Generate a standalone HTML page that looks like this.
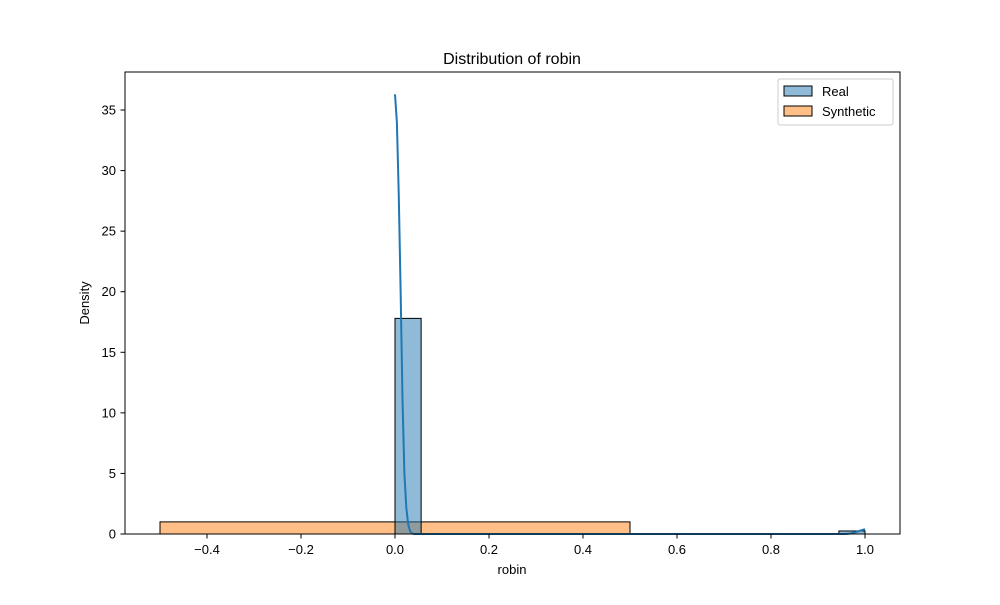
<!DOCTYPE html>
<html><head><meta charset="utf-8"><style>
body{margin:0;background:#fff;font-family:"Liberation Sans","DejaVu Sans",sans-serif}
</style></head><body>
<svg id="chart" width="1000" height="600" xmlns="http://www.w3.org/2000/svg" font-family="Liberation Sans, DejaVu Sans, sans-serif">
<rect width="1000" height="600" fill="#fff"/>
<g id="marks"></g>
<rect x="125" y="72" width="775" height="462" fill="none" stroke="#000" stroke-width="1"/>
<g id="xticks"></g>
<g id="yticks"></g>
<text x="512" y="64" text-anchor="middle" font-size="16">Distribution of robin</text>
<text x="512" y="574" text-anchor="middle" font-size="13">robin</text>
<text transform="translate(89,303) rotate(-90)" text-anchor="middle" font-size="13">Density</text>
<g>
<rect x="778" y="79" width="115" height="46" fill="#fff" fill-opacity="0.8" stroke="#ccc" rx="2"/>
<g><rect x="784" y="86" width="28" height="10" fill="#1f77b4" fill-opacity="0.5" stroke="#000"/><text x="822" y="96" font-size="13">Real</text></g>
<g><rect x="784" y="106" width="28" height="10" fill="#ff7f0e" fill-opacity="0.5" stroke="#000"/><text x="822" y="116" font-size="13">Synthetic</text></g>
</g>
</svg>
<script>
const realEdges=[0,0.0556,0.1111,0.1667,0.2222,0.2778,0.3333,0.3889,0.4444,0.5,0.5556,0.6111,0.6667,0.7222,0.7778,0.8333,0.8889,0.9444,1.0];
const realHeights=[17.8,0,0,0,0,0,0,0,0,0,0,0,0,0,0,0,0,0.25];
const synthEdges=[-0.5,0.5,1.0];
const synthHeights=[1.0,0];
const kdeX=[0,0.004,0.008,0.012,0.016,0.02,0.024,0.028,0.032,0.036,0.04,0.5,0.96,0.97,0.98,0.99,1.0];
const kdeY=[36.3,34,28,20,11,5,2.2,0.8,0.25,0.05,0,0,0,0.05,0.15,0.28,0.4];
const xTicks=[-0.4,-0.2,0.0,0.2,0.4,0.6,0.8,1.0];
const yTicks=[0,5,10,15,20,25,30,35];
const X=v=>395+v*470;
const Y=v=>534-v*12.114;
const NS="http://www.w3.org/2000/svg";
const marks=document.getElementById('marks');
function mk(t,a,p){const e=document.createElementNS(NS,t);for(const k in a)e.setAttribute(k,a[k]);(p||marks).appendChild(e);return e;}
for(let i=0;i<synthHeights.length;i++){
 const e=mk('rect',{x:X(synthEdges[i]),y:Y(synthHeights[i]),width:X(synthEdges[i+1])-X(synthEdges[i]),height:Y(0)-Y(synthHeights[i]),fill:'#ff7f0e','fill-opacity':0.5,stroke:'#000','stroke-width':1});
 
 
}
for(let i=0;i<realHeights.length;i++){
 const e=mk('rect',{x:X(realEdges[i]),y:Y(realHeights[i]),width:X(realEdges[i+1])-X(realEdges[i]),height:Y(0)-Y(realHeights[i]),fill:'#1f77b4','fill-opacity':0.5,stroke:'#000','stroke-width':1});
 
 
}
const kde=mk('polyline',{points:kdeX.map((v,i)=>X(v)+','+Y(kdeY[i])).join(' '),fill:'none',stroke:'#1f77b4','stroke-width':2});


const xg=document.getElementById('xticks'),yg=document.getElementById('yticks');
xTicks.forEach(t=>{
 mk('line',{x1:X(t),x2:X(t),y1:534,y2:538.5,stroke:'#000'},xg);
 const tx=mk('text',{x:X(t),y:554,'text-anchor':'middle','font-size':13},xg);tx.textContent=t.toFixed(1).replace('-','\u2212');
 
 
});
yTicks.forEach(t=>{
 mk('line',{x1:120.5,x2:125,y1:Y(t),y2:Y(t),stroke:'#000'},yg);
 const tx=mk('text',{x:116,y:Y(t)+4.5,'text-anchor':'end','font-size':13},yg);tx.textContent=t;
 
 
});
</script>
</body></html>
